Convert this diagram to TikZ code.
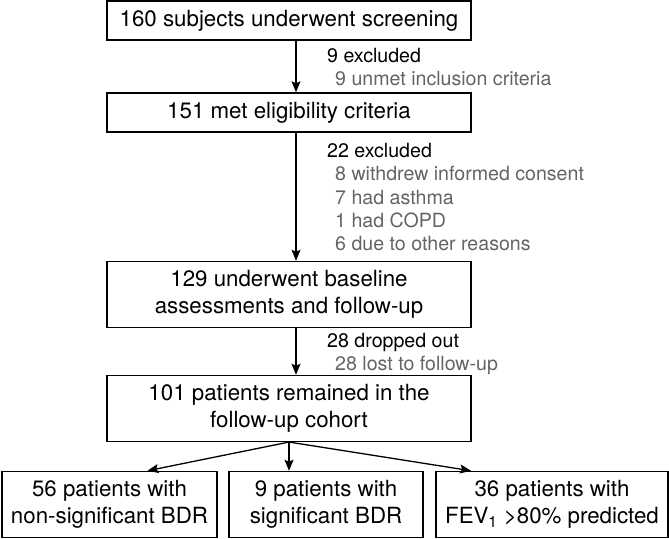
\documentclass[tikz,border=0pt]{standalone}
\usepackage{fontspec}
\setmainfont{TeX Gyre Heros}
\usepackage{tikz}
\usetikzlibrary{arrows.meta, positioning}
\definecolor{notegray}{RGB}{100,100,100}
\tikzstyle{stage} = [rectangle, draw=black, line width=1.3pt, minimum width=364pt, minimum height=39pt, inner sep=0pt, align=center, font=\fontsize{22.3}{27}\selectfont]
\tikzstyle{tall} = [stage, minimum height=66pt]
\tikzstyle{excl} = [anchor=base west, inner sep=0pt, font=\fontsize{19.6}{23}\selectfont]
\tikzstyle{reason} = [excl, text=notegray]
\tikzstyle{arrow} = [line width=1.3pt, -{Stealth[length=11pt, width=9pt, inset=2pt]}]

\begin{document}
\begin{tikzpicture}[x=1pt, y=1pt]
  \useasboundingbox (0,0) rectangle (669,-538);
  % nodes
    \node (screening) [stage] at (289,-20.4) {160 subjects underwent screening};
    \node (eligible) [stage, below = 51.7pt of screening] {151 met eligibility criteria};
    \node (baseline) [tall, below = 128.2pt of eligible] {129 underwent baseline\\assessments and follow-up};
    \node (cohort) [tall, below = 46.7pt of baseline] {101 patients remained in the\\follow-up cohort};
    \node (sigbdr) [tall, minimum width=194pt, below = 28.7pt of cohort, xshift=37pt] {9 patients with\\significant BDR};
    \node (nonsigbdr) [tall, minimum width=215pt, left = 10.7pt of sigbdr] {56 patients with\\non-significant BDR};
    \node (highfev) [tall, minimum width=232pt, right = 11.7pt of sigbdr] {36 patients with\\FEV\textsubscript{1} >80\% predicted};
  % exclusion notes
    \node (excla) [excl] at (327,-62) {9 excluded};
    \node (reasona) [reason] at (335,-85) {9 unmet inclusion criteria};
    \node (exclb) [excl] at (327,-157) {22 excluded};
    \node (reasonb) [reason] at (335,-180) {8 withdrew informed consent};
    \node (reasonc) [reason] at (335,-204) {7 had asthma};
    \node (reasond) [reason] at (335,-227) {1 had COPD};
    \node (reasone) [reason] at (335,-250) {6 due to other reasons};
    \node (exclc) [excl] at (327,-347) {28 dropped out};
    \node (reasonf) [reason] at (335,-370) {28 lost to follow-up};
  %arrows
    \draw [arrow] ([xshift=7pt]screening.south) -- ([xshift=7pt]eligible.north);
    \draw [arrow] ([xshift=7pt]eligible.south) -- ([xshift=7pt]baseline.north);
    \draw [arrow] ([xshift=7pt]baseline.south) -- ([xshift=7pt]cohort.north);
    \draw [arrow] (cohort.south) -- ([xshift=38pt]nonsigbdr.north);
    \draw [arrow] (cohort.south) -- (cohort.south |- sigbdr.north);
    \draw [arrow] (cohort.south) -- ([xshift=-81pt]highfev.north);
\end{tikzpicture}
\end{document}
